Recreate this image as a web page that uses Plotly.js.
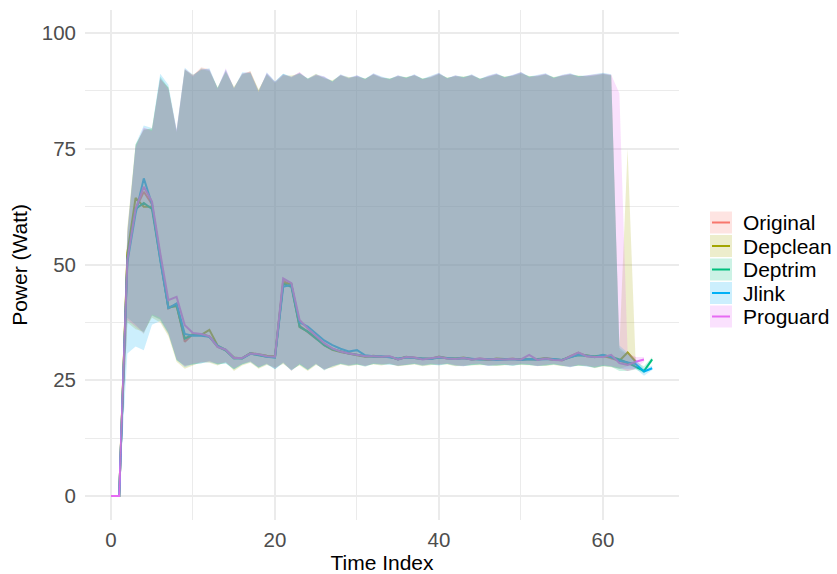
<!DOCTYPE html>
<html>
<head>
<meta charset="utf-8">
<script src="https://cdn.plot.ly/plotly-3.0.1.min.js"></script>
<style>html,body{margin:0;padding:0;background:#fff;}#chart{width:837px;height:574px;}</style>
</head>
<body>
<div id="chart"></div>
<script>
// ---------- DATA ----------
const seriesNames = ["Original", "Depclean", "Deptrim", "Jlink", "Proguard"];
const seriesColors = ["#F8766D", "#A3A500", "#00BF7D", "#00B0F6", "#E76BF3"];

// mean power per time index
const meanOriginal = [0,0,52,62,65.7,63,51.5,40.5,41.5,33.3,35,35,34.5,32.2,31.5,29.8,29.8,30.8,30.5,30.2,30,46.5,45.5,36.8,35.3,34,32.8,31.8,31.2,30.8,30.5,30.2,30.2,30,30.1,29.5,30,29.9,29.6,29.7,30,29.8,29.6,29.8,29.5,29.7,29.5,29.6,29.5,29.7,29.4,29.6,29.5,29.8,29.5,29.3,30.2,31,30.2,30,30.3,29.8,29.2,28.6,28.8];
const meanDepclean = [0,0,52.5,64.4,62.5,62.5,51.8,40.8,41,34,35,34.8,35.9,32.5,31.6,29.9,29.7,30.9,30.6,30.3,30.2,46,45.8,36.5,35.5,34.2,32.6,31.6,31.1,30.7,30.4,30.1,30.3,30.1,30,29.6,30.1,29.8,29.7,29.6,30.1,29.7,29.7,29.9,29.6,29.6,29.4,29.7,29.6,29.6,29.5,29.5,29.6,29.7,29.4,29.4,30,30.6,30.4,30.1,30.2,30,29.2,31,29];
const meanDeptrim = [0,0,51.5,62,63.3,62,51.2,40.6,41.2,34,34.8,35,34.4,32.3,31.4,29.7,29.8,30.8,30.4,30.1,30,45.8,45.2,36.6,35.5,34,32.6,31.7,31.2,30.8,30.5,30.2,30.1,30.1,30.1,29.5,30,29.8,29.6,29.7,29.9,29.8,29.7,29.8,29.5,29.6,29.6,29.6,29.5,29.6,29.5,29.5,29.5,29.7,29.6,29.4,30.1,30.4,30.3,30.2,30.4,30.1,29.5,28.8,27.9,27,29.5];
const meanJlink = [0,0,50.5,61,68.6,63,51,40.6,41.6,35,34.6,34.6,34.4,32.4,31.6,29.8,29.7,30.7,30.5,30.1,29.9,45.2,45.6,37.5,36.6,35.2,33.6,32.6,31.8,31.2,31.5,30.4,30.2,30.2,30,29.7,29.9,29.8,29.7,29.6,29.9,29.8,29.6,29.8,29.6,29.5,29.6,29.4,29.5,29.6,29.4,29.6,29.5,29.6,29.6,29.4,30,30.5,30.3,30,30.5,30,29.2,28.8,28.5,26.9,27.6];
const meanProguard = [0,0,51,62,66.8,63.6,52.5,42.3,43,36.9,35.2,35,34.5,32.2,31.6,29.8,29.8,30.8,30.6,30.2,30.1,47,46,38,36.2,34.6,33,31.9,31.2,30.8,30.5,30.2,30.2,30.1,30.2,29.5,30,29.9,29.5,29.7,30,29.7,29.6,29.8,29.5,29.7,29.5,29.6,29.5,29.6,29.5,30.5,29.4,29.7,29.4,29.3,30.1,31,30.2,30,30,30.5,28.7,28.3,29,29.5];

// ribbon upper (max) and lower (min) per time index
const maxOriginal = [0,0,57,75.5,79.5,79,90.3,88,79,92.3,90.8,92.6,92.2,88,92,88,91.3,91.6,87.5,91.3,89.5,91,90.5,91.5,90,91,90.5,89.5,91,90.3,90.8,90,91.2,90.5,90,90.8,90.3,91,90,90.6,91.3,90.2,90.8,90.4,91,90,90.7,91.2,90.4,90.9,91.5,90.5,90.8,91.2,90.3,90.9,91.2,90.6,90.8,91,91.3,91,31.5,30.5,30];
const minOriginal = [0,0,38,36.5,35,39,38,35,29.5,28,28.5,28.8,29,28.5,28.8,27.5,28.5,29,27.8,28.5,27.5,28.8,27,28.5,27.3,28.5,27.2,28,28.6,28.2,28.5,28,28.6,28.4,28.5,28.1,28.4,28.6,28.2,28.5,28.3,28.6,28.2,28,28.4,28.5,28.1,28.3,28.4,28.2,28.5,28.4,28,28.3,28.5,28.2,27.8,28.3,28,27.8,28.2,28,27.5,27,27.5];
const maxDepclean = [0,0,58,76,79,79.5,90,88.3,78.5,92,91,92.2,91.8,88.3,91.6,88.4,91,91.8,87.8,91,89.2,90.8,90.8,91.2,90.2,91.2,90.2,89.8,90.8,90.5,90.5,90.2,91,90.3,90.2,90.6,90.5,90.8,90.2,90.4,91.1,90.4,90.6,90.6,90.8,90.2,90.5,91,90.6,90.7,91.2,90.7,90.6,91,90.5,90.7,91,90.8,90.6,90.8,91.1,90.8,32,75,30.5];
const minDepclean = [0,0,37.5,36,35.5,38.5,37.5,34.5,29,27.5,28.2,29,28.8,28.2,29,27,28.2,28.8,27.5,28.3,27.8,28.5,27.3,28.2,27,28.3,27.5,27.7,28.4,28,28.3,28.2,28.4,28.2,28.6,28,28.2,28.4,28,28.3,28.5,28.4,28,28.2,28.2,28.3,28.3,28.1,28.2,28.4,28.3,28.2,28.2,28.1,28.3,28,28,28.1,28.2,27.6,28,27.8,27.5,28,28];
const maxDeptrim = [0,0,57.5,75.8,79.2,79.2,90.6,88.2,78.8,92.1,90.6,92.4,92,88.1,91.8,88.2,91.2,91.4,87.6,91.2,89.4,91.2,90.4,91.3,90.1,90.8,90.4,89.6,90.9,90.2,90.7,90.1,91.1,90.4,90.1,90.7,90.4,90.9,90.1,90.5,91.2,90.3,90.7,90.5,90.9,90.1,90.6,91.1,90.5,90.8,91.4,90.6,90.7,91.1,90.4,90.8,91.1,90.7,90.7,90.9,91.2,90.9,32,30.5,29,28,30];
const minDeptrim = [0,0,38.5,37,35.2,39,38.2,35.2,29.3,28.2,28.4,28.6,29.2,28.4,28.6,27.3,28.4,29.1,27.7,28.6,27.4,28.9,27.1,28.4,27.2,28.6,27.1,28.1,28.5,28.3,28.4,27.9,28.5,28.5,28.4,28.2,28.3,28.5,28.3,28.4,28.2,28.5,28.3,28.1,28.3,28.4,28.2,28.2,28.3,28.1,28.4,28.3,28.1,28.2,28.4,28.1,27.9,28.2,28.1,27.7,28.1,27.9,27,27,27.3,26.5,29];
const maxJlink = [0,0,56,76,80,79.5,91.2,88.8,79.2,92.5,91,92,92.4,88.2,92.2,88,91.5,91.4,87.2,91.5,89.6,91.2,90.6,91.4,90.2,91.1,90.6,89.6,91.1,90.4,90.9,90.1,91.3,90.6,90.1,90.9,90.4,91.1,90.1,90.7,91.4,90.3,90.9,90.5,91.1,90.1,90.8,91.3,90.5,91,91.6,90.6,90.9,91.3,90.4,91,91.3,90.7,90.9,91.1,91.4,91.1,32.5,31,29.5,27.5,28.2];
const minJlink = [0,0,30.8,32.3,31.5,37,37.8,35,29.4,27.8,28.4,28.7,28.9,28.4,28.7,27.4,28.4,28.9,27.7,28.4,27.4,28.7,27.1,28.4,27.2,28.4,27.3,27.9,28.5,28.1,28.4,28.1,28.5,28.3,28.4,28.1,28.3,28.5,28.1,28.4,28.3,28.5,28.1,28,28.3,28.4,28.1,28.2,28.3,28.2,28.4,28.3,28.1,28.2,28.4,28.1,27.8,28.2,28,27.7,28.1,27.9,27.5,27.5,27.5,26,27.2];
const maxProguard = [0,0,57,75.2,79.6,78.8,90.2,87.8,79.1,92.2,90.9,92.3,92.1,87.9,92.4,88.1,91.2,91.7,87.4,91.4,89.4,91.1,90.5,91.6,90,91,90.6,89.4,91,90.2,90.8,89.9,91.2,90.4,89.9,90.8,90.2,91,89.9,90.5,91.3,90.1,90.8,90.3,91,89.9,90.7,91.2,90.3,90.9,91.5,90.4,90.8,91.2,90.2,90.9,91.2,90.5,90.8,91,91.2,91,87,31,30,30];
const minProguard = [0,0,38,36.8,35.4,39.2,38.5,35.5,29.6,28.1,28.6,28.9,29.1,28.6,28.9,27.6,28.6,29.1,27.9,28.6,27.6,28.9,27.2,28.6,27.4,28.6,27.3,28.1,28.7,28.3,28.6,28.1,28.7,28.5,28.6,28.2,28.5,28.7,28.3,28.6,28.4,28.7,28.3,28.1,28.5,28.6,28.2,28.4,28.5,28.3,28.6,28.5,28.1,28.4,28.6,28.3,27.9,28.4,28.1,27.9,28.3,28.1,27.8,27,27.5,29];

const xTickVals = [0, 20, 40, 60];
const yTickVals = [0, 25, 50, 75, 100];

// ---------- BUILD ----------
const means = [meanOriginal, meanDepclean, meanDeptrim, meanJlink, meanProguard];
const maxs = [maxOriginal, maxDepclean, maxDeptrim, maxJlink, maxProguard];
const mins = [minOriginal, minDepclean, minDeptrim, minJlink, minProguard];

function rgba(hex, a) {
  const r = parseInt(hex.slice(1,3),16), g = parseInt(hex.slice(3,5),16), b = parseInt(hex.slice(5,7),16);
  return `rgba(${r},${g},${b},${a})`;
}
function idx(n) { return Array.from({length: n}, (_, i) => i); }

const traces = [];
// lines first (drawn under ribbons)
seriesNames.forEach((name, i) => {
  const y = means[i];
  traces.push({
    type: 'scatter', mode: 'lines', name: name,
    x: idx(y.length), y: y,
    line: {color: seriesColors[i], width: 2},
    showlegend: false, hoverinfo: 'skip'
  });
});
// ribbons on top
seriesNames.forEach((name, i) => {
  const up = maxs[i], lo = mins[i];
  const xs = idx(up.length);
  traces.push({
    type: 'scatter', mode: 'lines', name: name + ' range',
    x: xs.concat(xs.slice().reverse()),
    y: up.concat(lo.slice().reverse()),
    fill: 'toself', fillcolor: rgba(seriesColors[i], 0.2),
    line: {width: 0, color: 'rgba(0,0,0,0)'},
    showlegend: false, hoverinfo: 'skip'
  });
});

// custom legend (ggplot style keys)
const W = 837, H = 574;
const mL = 85, mR = 158, mT = 10, mB = 54;
const pw = W - mL - mR, ph = H - mT - mB;
const px2x = p => (p - mL) / pw;
const py2y = p => (H - mB - p) / ph;
const shapes = [], annotations = [];
const rowCenters = [222.5, 246, 269.5, 293, 316.5];
seriesNames.forEach((name, i) => {
  const cy = rowCenters[i];
  shapes.push({type: 'rect', xref: 'paper', yref: 'paper',
    x0: px2x(710), x1: px2x(732), y0: py2y(cy - 11), y1: py2y(cy + 11),
    fillcolor: rgba(seriesColors[i], 0.2), line: {width: 0}});
  shapes.push({type: 'line', xref: 'paper', yref: 'paper',
    x0: px2x(712), x1: px2x(730), y0: py2y(cy), y1: py2y(cy),
    line: {color: seriesColors[i], width: 2}});
  annotations.push({xref: 'paper', yref: 'paper', x: px2x(741), y: py2y(cy),
    xanchor: 'left', yanchor: 'middle', showarrow: false, text: name,
    font: {family: 'Liberation Sans, Arial, sans-serif', size: 21, color: '#000'}});
});

const gridCol = '#EBEBEB';
const layout = {
  width: W, height: H,
  margin: {l: mL, r: mR, t: mT, b: mB, pad: 0},
  paper_bgcolor: '#fff', plot_bgcolor: '#fff',
  showlegend: false,
  font: {family: 'Liberation Sans, Arial, sans-serif'},
  xaxis: {
    range: [-3.17, 69.27], tickvals: xTickVals, ticktext: xTickVals.map(String),
    showgrid: true, gridcolor: gridCol, gridwidth: 2, zeroline: false, showline: false,
    ticks: '', ticklabelstandoff: 5,
    tickfont: {size: 20.5, color: '#4D4D4D'},
    minor: {tickvals: [10, 30, 50], showgrid: true, gridcolor: gridCol, gridwidth: 1},
    title: {text: 'Time Index', font: {size: 21, color: '#000'}, standoff: 6},
    automargin: false
  },
  yaxis: {
    range: [-5.18, 104.97], tickvals: yTickVals, ticktext: yTickVals.map(String),
    showgrid: true, gridcolor: gridCol, gridwidth: 2, zeroline: false, showline: false,
    ticks: '', ticklabelstandoff: 8,
    tickfont: {size: 20.5, color: '#4D4D4D'},
    minor: {tickvals: [12.5, 37.5, 62.5, 87.5], showgrid: true, gridcolor: gridCol, gridwidth: 1},
    title: {text: 'Power (Watt)', font: {size: 21, color: '#000'}, standoff: 8},
    automargin: false
  },
  shapes: shapes,
  annotations: annotations
};

Plotly.newPlot('chart', traces, layout, {displayModeBar: false, staticPlot: true});
</script>
</body>
</html>
